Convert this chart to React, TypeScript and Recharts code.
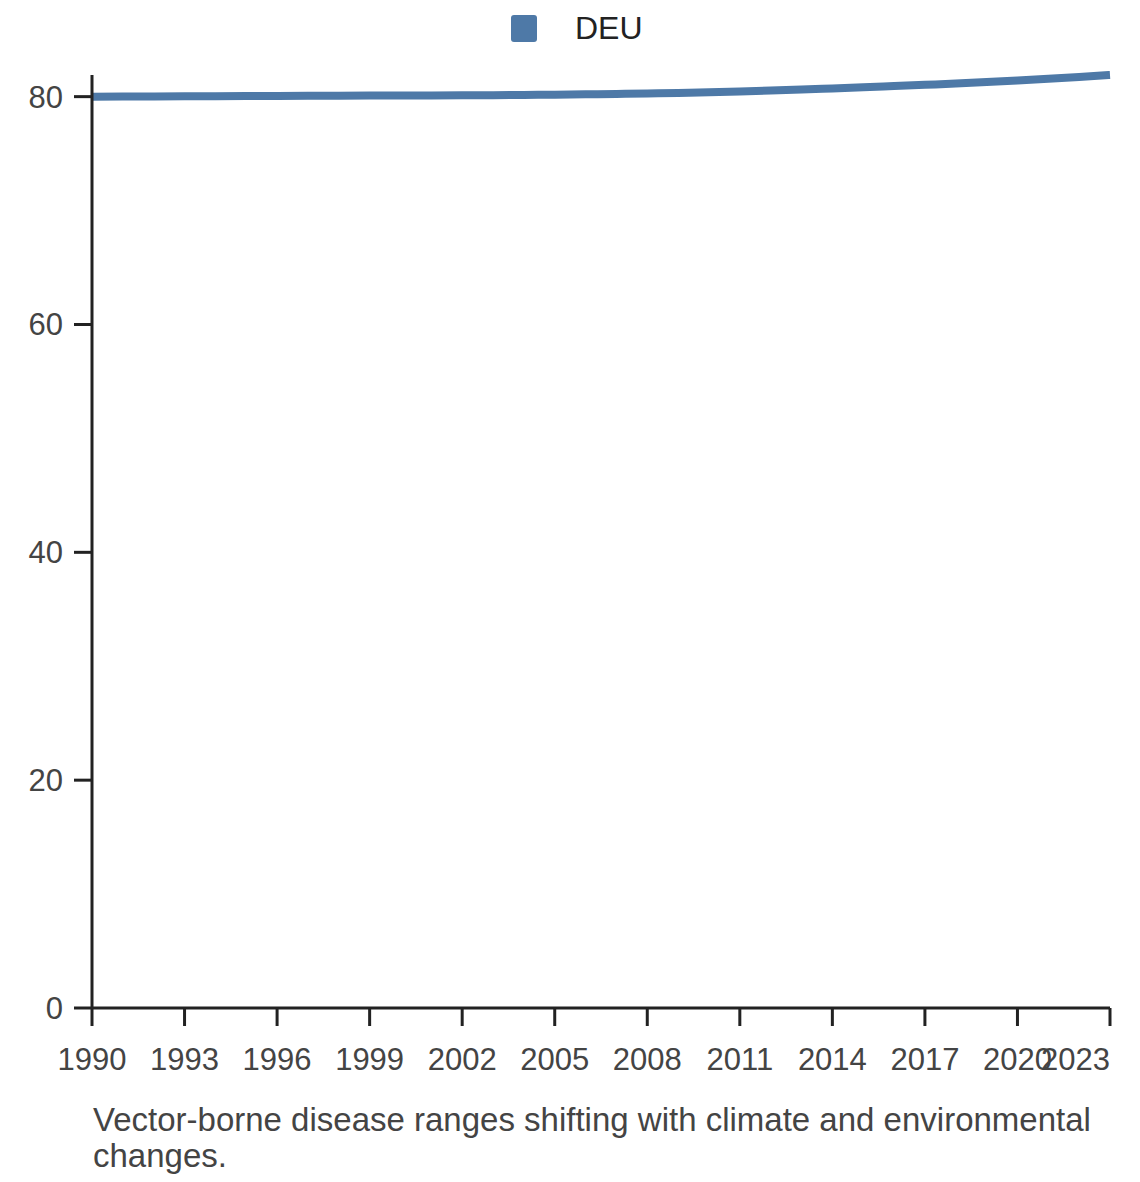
import React from "react";
import { LineChart, Line, XAxis, YAxis } from "recharts";

const years = [1990, 1991, 1992, 1993, 1994, 1995, 1996, 1997, 1998, 1999, 2000, 2001, 2002, 2003, 2004, 2005, 2006, 2007, 2008, 2009, 2010, 2011, 2012, 2013, 2014, 2015, 2016, 2017, 2018, 2019, 2020, 2021, 2022, 2023];
const deuValues = [80.0, 80.01, 80.02, 80.03, 80.04, 80.05, 80.06, 80.07, 80.08, 80.09, 80.1, 80.11, 80.12, 80.13, 80.15, 80.17, 80.2, 80.24, 80.28, 80.33, 80.38, 80.45, 80.53, 80.62, 80.72, 80.82, 80.93, 81.04, 81.15, 81.28, 81.42, 81.57, 81.73, 81.9];
const xTicks = [1990, 1993, 1996, 1999, 2002, 2005, 2008, 2011, 2014, 2017, 2020, 2023];
const yTicks = [0, 20, 40, 60, 80];
const seriesName = "DEU";
const caption = "Vector-borne disease ranges shifting with climate and environmental changes.";

const data = years.map((y, i) => ({ year: y, DEU: deuValues[i] }));

const FONT = '"Liberation Sans", Arial, sans-serif';
const BLUE = "#4e79a7";
const AXIS = "#222";

const XTick = (props: any) => {
  const { x, y, payload, index } = props;
  const last = index === xTicks.length - 1;
  return (
    <text
      x={x}
      y={y}
      dy="0.71em"
      textAnchor={last ? "end" : "middle"}
      fill="#444"
      fontSize={31}
      fontFamily={FONT}
    >
      {payload.value}
    </text>
  );
};

export default function App() {
  return (
    <div style={{ position: "relative", width: 1124, height: 1170, fontFamily: FONT }}>
      <div style={{ position: "absolute", left: 503, top: 7, width: 26, height: 27, background: BLUE, borderRadius: 3 }} />
      <div style={{ position: "absolute", left: 567, top: 0, fontSize: 32, lineHeight: "40px", color: "#222" }}>{seriesName}</div>
      <div style={{ position: "absolute", left: 0, top: 0 }}>
        <LineChart width={1124} height={1080} data={data} margin={{ top: 67, right: 22, bottom: 0, left: 0 }}>
          <XAxis
            dataKey="year"
            type="number"
            domain={[1990, 2023]}
            ticks={xTicks}
            interval={0}
            height={80}
            tickSize={18}
            tickMargin={22}
            stroke={AXIS}
            strokeWidth={3}
            tick={<XTick />}
          />
          <YAxis
            type="number"
            domain={[0, "dataMax"]}
            ticks={yTicks}
            interval={0}
            width={84}
            tickSize={18}
            tickMargin={11}
            stroke={AXIS}
            strokeWidth={3}
            tick={{ fill: "#444", fontSize: 31, fontFamily: FONT }}
          />
          <Line
            type="monotone"
            dataKey="DEU"
            name={seriesName}
            stroke={BLUE}
            strokeWidth={8}
            dot={false}
            activeDot={false}
            isAnimationActive={false}
          />
        </LineChart>
      </div>
      <div style={{ position: "absolute", left: 85, top: 1094, width: 1030, fontSize: 33, lineHeight: "36px", color: "#444" }}>
        {caption}
      </div>
    </div>
  );
}
